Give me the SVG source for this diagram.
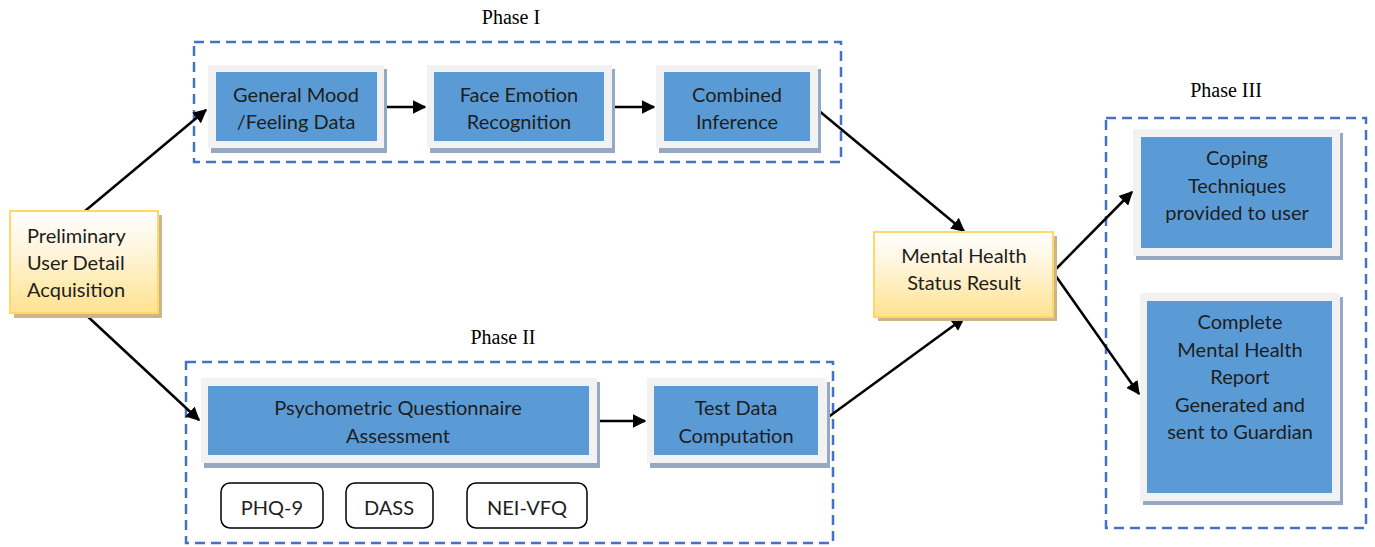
<svg xmlns="http://www.w3.org/2000/svg" width="1375" height="547" viewBox="0 0 1375 547">
  <style>
    .phase { fill: none; stroke: #4472c4; stroke-width: 2.5; stroke-dasharray: 10 6; }
    .plabel { font-family: "Liberation Serif", serif; font-size: 20px; fill: #000; text-anchor: middle; }
    .frame { fill: #f2f2f2; }
    .fshadow { fill: #95a9c2; }
    .core { fill: #5b9bd5; }
    .ybox { fill: url(#yg); stroke: #ffd966; stroke-width: 2; }
    .yshadow { fill: #c9b68a; }
    .t { font-family: Lato, "Open Sans", sans-serif; font-size: 20px; fill: #1e1e1e; text-anchor: middle; }
    .tl { font-family: Lato, "Open Sans", sans-serif; font-size: 20px; fill: #1e1e1e; }
    .pill { fill: #fff; stroke: #000; stroke-width: 1.5; }
    .conn { stroke: #000; stroke-width: 2.5; fill: none; marker-end: url(#ah); }
  </style>
  <defs>
    <linearGradient id="yg" x1="0" y1="0" x2="0" y2="1">
      <stop offset="0" stop-color="#ffffff"/>
      <stop offset="0.35" stop-color="#fff6e0"/>
      <stop offset="1" stop-color="#ffe28f"/>
    </linearGradient>
    <marker id="ah" viewBox="0 0 10 10" refX="9" refY="5" markerWidth="5.5" markerHeight="5.5" orient="auto" markerUnits="strokeWidth">
      <path d="M0,0 L10,5 L0,10 z" fill="#000"/>
    </marker>
  </defs>

  <!-- phase containers -->
  <g id="phase1">
    <rect class="phase" x="194" y="42" width="647" height="120"/>
    <text class="plabel" x="511" y="24">Phase I</text>
  </g>
  <g id="phase2">
    <rect class="phase" x="186" y="362" width="647" height="181"/>
    <text class="plabel" x="503" y="344">Phase II</text>
  </g>
  <g id="phase3">
    <rect class="phase" x="1106" y="118" width="260" height="410"/>
    <text class="plabel" x="1226" y="97">Phase III</text>
  </g>

  <!-- connectors -->
  <g id="connectors">
    <line class="conn" x1="85" y1="211" x2="206" y2="110"/>
    <line class="conn" x1="85" y1="314" x2="199" y2="420"/>
    <line class="conn" x1="385" y1="107" x2="425" y2="107"/>
    <line class="conn" x1="614" y1="107" x2="654" y2="107"/>
    <line class="conn" x1="597" y1="421" x2="645" y2="421"/>
    <line class="conn" x1="818" y1="110" x2="964" y2="231"/>
    <line class="conn" x1="827" y1="418" x2="964" y2="318"/>
    <line class="conn" x1="1053" y1="272" x2="1132" y2="192"/>
    <line class="conn" x1="1053" y1="272" x2="1139" y2="394"/>
  </g>

  <!-- yellow nodes -->
  <g id="preliminary">
    <rect class="yshadow" x="14" y="215" width="148" height="103"/>
    <rect class="ybox" x="10" y="211" width="148" height="102"/>
    <text class="tl" x="27" y="243">Preliminary</text>
    <text class="tl" x="27" y="270">User Detail</text>
    <text class="tl" x="27" y="297">Acquisition</text>
  </g>
  <g id="mental-health">
    <rect class="yshadow" x="878" y="236" width="179" height="85"/>
    <rect class="ybox" x="874" y="232" width="179" height="85"/>
    <text class="t" x="964" y="263">Mental Health</text>
    <text class="t" x="964" y="290">Status Result</text>
  </g>

  <!-- Phase I nodes -->
  <g id="general-mood">
    <rect class="fshadow" x="211" y="69" width="176" height="84"/>
    <rect class="frame" x="208" y="65" width="176" height="83"/>
    <rect class="core" x="216" y="72" width="161" height="69"/>
    <text class="t" x="296" y="102">General Mood</text>
    <text class="t" x="296" y="129">/Feeling Data</text>
  </g>
  <g id="face-emotion">
    <rect class="fshadow" x="430" y="69" width="185" height="84"/>
    <rect class="frame" x="427" y="65" width="185" height="83"/>
    <rect class="core" x="434" y="72" width="170" height="69"/>
    <text class="t" x="519" y="102">Face Emotion</text>
    <text class="t" x="519" y="129">Recognition</text>
  </g>
  <g id="combined-inference">
    <rect class="fshadow" x="659" y="69" width="162" height="84"/>
    <rect class="frame" x="656" y="65" width="162" height="83"/>
    <rect class="core" x="664" y="72" width="146" height="69"/>
    <text class="t" x="737" y="102">Combined</text>
    <text class="t" x="737" y="129">Inference</text>
  </g>

  <!-- Phase II nodes -->
  <g id="psychometric">
    <rect class="fshadow" x="204" y="382" width="396" height="86"/>
    <rect class="frame" x="201" y="378" width="396" height="85"/>
    <rect class="core" x="208" y="386" width="381" height="69"/>
    <text class="t" x="398" y="415">Psychometric Questionnaire</text>
    <text class="t" x="398" y="443">Assessment</text>
  </g>
  <g id="test-data">
    <rect class="fshadow" x="650" y="382" width="180" height="86"/>
    <rect class="frame" x="647" y="378" width="180" height="85"/>
    <rect class="core" x="654" y="386" width="164" height="69"/>
    <text class="t" x="736" y="415">Test Data</text>
    <text class="t" x="736" y="443">Computation</text>
  </g>
  <g id="phq9">
    <rect class="pill" x="221" y="483" width="102" height="45" rx="9"/>
    <text class="t" x="272" y="515">PHQ-9</text>
  </g>
  <g id="dass">
    <rect class="pill" x="346" y="483" width="87" height="45" rx="9"/>
    <text class="t" x="389" y="515">DASS</text>
  </g>
  <g id="nei-vfq">
    <rect class="pill" x="467" y="483" width="120" height="45" rx="9"/>
    <text class="t" x="527" y="515">NEI-VFQ</text>
  </g>

  <!-- Phase III nodes -->
  <g id="coping">
    <rect class="fshadow" x="1136" y="133" width="207" height="127"/>
    <rect class="frame" x="1133" y="129" width="207" height="127"/>
    <rect class="core" x="1141" y="137" width="191" height="111"/>
    <text class="t" x="1237" y="165">Coping</text>
    <text class="t" x="1237" y="193">Techniques</text>
    <text class="t" x="1237" y="220">provided to user</text>
  </g>
  <g id="report">
    <rect class="fshadow" x="1143" y="297" width="200" height="208"/>
    <rect class="frame" x="1140" y="293" width="200" height="208"/>
    <rect class="core" x="1147" y="301" width="185" height="192"/>
    <text class="t" x="1240" y="329">Complete</text>
    <text class="t" x="1240" y="357">Mental Health</text>
    <text class="t" x="1240" y="384">Report</text>
    <text class="t" x="1240" y="412">Generated and</text>
    <text class="t" x="1240" y="439">sent to Guardian</text>
  </g>
</svg>
